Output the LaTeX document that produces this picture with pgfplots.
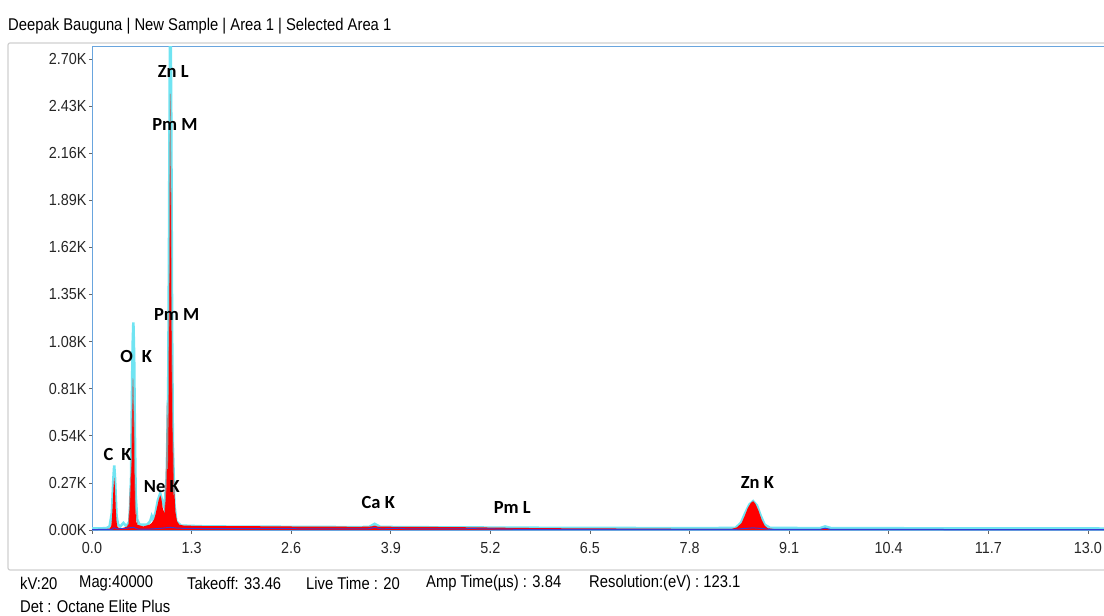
\documentclass[border=0pt]{standalone}
\usepackage{fontspec}
\setmainfont{Liberation Sans}
\newfontfamily\narrowfont{Liberation Sans}[FakeStretch=0.87]
\newfontfamily\tickfont{Liberation Sans}[FakeStretch=0.9]
\newfontfamily\peakfont{Carlito}
\usepackage{pgfplots}
\pgfplotsset{compat=1.18}

\definecolor{framegray}{RGB}{208,208,208}
\definecolor{axisblue}{RGB}{105,165,222}
\definecolor{fitcyan}{RGB}{112,228,242}
\definecolor{bgblue}{RGB}{58,58,212}
\definecolor{peakred}{RGB}{255,0,0}
\definecolor{rawgray}{RGB}{150,150,150}

\newcommand\ticksize{\tickfont\fontsize{16}{18}\selectfont}
\newcommand\infosize{\narrowfont\fontsize{17}{19}\selectfont}
\newcommand\peaksize{\peakfont\bfseries\fontsize{18.5}{20}\selectfont}

\begin{document}
\begin{tikzpicture}
\useasboundingbox (0pt,0pt) rectangle (1104pt,616pt);
% panel frame and header
\draw[framegray, line width=1.2pt, rounded corners=2pt] (8pt,46pt) rectangle (1120pt,573pt);
\node[anchor=west, inner sep=0pt, font=\infosize] at (8pt,590pt) {Deepak Bauguna | New Sample | Area 1 | Selected Area 1};

\begin{axis}[
  at={(92pt,85pt)}, anchor=south west,
  scale only axis, width=1012pt, height=484pt,
  xmin=0, xmax=13.21, ymin=-0.006, ymax=2.769,
  axis line style={axisblue, line width=1pt},
  xtick={0,1.3,2.6,3.9,5.2,6.5,7.8,9.1,10.4,11.7,13.0},
  xticklabels={0.0,1.3,2.6,3.9,5.2,6.5,7.8,9.1,10.4,11.7,13.0},
  ytick={0,0.27,0.54,0.81,1.08,1.35,1.62,1.89,2.16,2.43,2.70},
  yticklabels={0.00K,0.27K,0.54K,0.81K,1.08K,1.35K,1.62K,1.89K,2.16K,2.43K,2.70K},
  tick label style={font=\ticksize, text=black!85},
  tick align=outside, tick pos=left,
  major tick length=3pt,
  tick style={black!60, line width=0.7pt},
  xticklabel style={yshift=-5pt},
  yticklabel style={xshift=1pt},
]
% fitted envelope
\addplot[fitcyan, line width=2.6pt] coordinates {
(0.00,0.008) (0.19,0.010) (0.23,0.020) (0.26,0.100) (0.28,0.300) (0.29,0.370)
(0.30,0.300) (0.32,0.080) (0.34,0.030) (0.37,0.020) (0.41,0.040) (0.45,0.020)
(0.49,0.050) (0.51,0.300) (0.52,0.700) (0.53,1.050) (0.54,1.190) (0.55,1.000)
(0.56,0.550) (0.57,0.200) (0.59,0.060) (0.62,0.030) (0.72,0.030) (0.76,0.050)
(0.78,0.080) (0.80,0.060) (0.83,0.100) (0.86,0.170) (0.89,0.210) (0.915,0.170)
(0.945,0.130) (0.975,0.300) (0.995,0.800) (1.005,1.600) (1.015,2.600) (1.02,3.000)
(1.025,3.100) (1.035,2.300) (1.045,1.200) (1.055,0.500) (1.075,0.150) (1.10,0.050)
(1.16,0.025) (1.50,0.020) (2.50,0.018) (3.50,0.016) (3.62,0.018) (3.69,0.035)
(3.76,0.018) (4.00,0.016) (5.00,0.014) (6.00,0.012) (8.00,0.010) (8.40,0.012)
(8.47,0.040) (8.53,0.100) (8.58,0.145) (8.63,0.165) (8.68,0.140) (8.73,0.080)
(8.78,0.030) (8.85,0.012) (9.50,0.010) (9.57,0.020) (9.65,0.010) (13.21,0.008)
};
% measured counts
\addplot[draw=none, fill=peakred] coordinates {
(0.00,0.000) (0.10,0.003) (0.19,0.005) (0.23,0.008) (0.25,0.020) (0.26,0.060)
(0.27,0.140) (0.28,0.240) (0.29,0.300) (0.30,0.240) (0.31,0.120) (0.32,0.050)
(0.33,0.020) (0.35,0.012) (0.39,0.010) (0.43,0.015) (0.46,0.020) (0.475,0.040)
(0.485,0.100) (0.495,0.220) (0.50,0.320) (0.505,0.200) (0.515,0.450) (0.525,0.720)
(0.535,0.870) (0.545,0.720) (0.555,0.400) (0.565,0.150) (0.575,0.050) (0.595,0.030)
(0.63,0.025) (0.67,0.020) (0.71,0.025) (0.75,0.030) (0.78,0.040) (0.81,0.060)
(0.83,0.090) (0.85,0.130) (0.87,0.170) (0.89,0.200) (0.905,0.180) (0.925,0.120)
(0.945,0.100) (0.96,0.180) (0.97,0.470) (0.977,0.250) (0.985,0.400) (0.995,0.650)
(1.005,1.200) (1.015,2.000) (1.022,2.500) (1.028,2.300) (1.035,1.500) (1.045,0.900)
(1.055,0.550) (1.065,0.350) (1.075,0.220) (1.09,0.100) (1.11,0.050) (1.14,0.030)
(1.20,0.025) (1.50,0.022) (2.00,0.022)
(2.50,0.020) (3.00,0.019) (3.50,0.018) (3.65,0.020) (3.69,0.025) (3.73,0.019)
(4.00,0.018) (4.50,0.017) (5.00,0.015) (5.50,0.012) (6.00,0.010) (7.00,0.008)
(8.00,0.006) (8.35,0.006) (8.42,0.015) (8.48,0.040) (8.52,0.080) (8.56,0.125)
(8.60,0.155) (8.63,0.165) (8.66,0.150) (8.70,0.110) (8.74,0.060) (8.78,0.025)
(8.82,0.010) (8.90,0.005) (9.50,0.004) (9.57,0.010) (9.64,0.004) (10.50,0.003)
(13.21,0.002)
} \closedcycle;
% raw trace over the main peaks
\addplot[rawgray, line width=0.6pt] coordinates {
(0.475,0.030) (0.495,0.180) (0.515,0.400) (0.525,0.700) (0.535,0.860) (0.545,0.700)
(0.565,0.140) (0.595,0.030)
};
\addplot[rawgray, line width=0.6pt] coordinates {
(0.945,0.100) (0.97,0.250) (0.98,0.730) (0.987,0.350) (0.995,0.600) (1.005,1.200)
(1.015,2.000) (1.022,2.500) (1.03,2.000) (1.045,0.900) (1.065,0.200)
};
% background
\addplot[bgblue, line width=1pt] coordinates {
(0.00,0.002) (0.26,0.004) (0.29,0.012) (0.33,0.006) (0.41,0.008) (0.45,0.010)
(0.54,0.015) (0.60,0.005) (0.76,0.005) (0.91,0.010) (1.02,0.015) (1.12,0.010)
(1.50,0.008) (3.60,0.006) (3.69,0.014) (3.78,0.006) (4.01,0.010) (4.10,0.006)
(5.00,0.007) (5.50,0.004) (8.40,0.003) (8.50,0.008) (8.63,0.012) (8.76,0.008)
(8.85,0.003) (9.50,0.003) (9.57,0.010) (9.64,0.003) (13.21,0.002)
};
% peak identifications
\node[font=\peaksize] at (axis cs:1.061,2.628) {Zn L};
\node[font=\peaksize] at (axis cs:1.083,2.322) {Pm M};
\node[font=\peaksize] at (axis cs:1.106,1.233) {Pm M};
\node[font=\peaksize] at (axis cs:0.578,0.992) {O\hspace{9pt}K};
\node[font=\peaksize] at (axis cs:0.333,0.430) {C\hspace{8pt}K};
\node[font=\peaksize] at (axis cs:0.911,0.248) {Ne K};
\node[font=\peaksize] at (axis cs:3.737,0.160) {Ca K};
\node[font=\peaksize] at (axis cs:5.487,0.128) {Pm L};
\node[font=\peaksize] at (axis cs:8.685,0.274) {Zn K};
\end{axis}

% acquisition parameters
\node[anchor=west, inner sep=0pt, font=\infosize] at (20pt,33pt) {kV:20};
\node[anchor=west, inner sep=0pt, font=\infosize] at (79pt,33pt) {Mag:40000};
\node[anchor=west, inner sep=0pt, font=\infosize] at (187pt,33pt) {Takeoff: 33.46};
\node[anchor=west, inner sep=0pt, font=\infosize] at (306pt,33pt) {Live Time : 20};
\node[anchor=west, inner sep=0pt, font=\infosize] at (426pt,33pt) {Amp Time(µs) : 3.84};
\node[anchor=west, inner sep=0pt, font=\infosize] at (589pt,33pt) {Resolution:(eV) : 123.1};
\node[anchor=west, inner sep=0pt, font=\infosize] at (20pt,10pt) {Det : Octane Elite Plus};
\end{tikzpicture}
\end{document}
